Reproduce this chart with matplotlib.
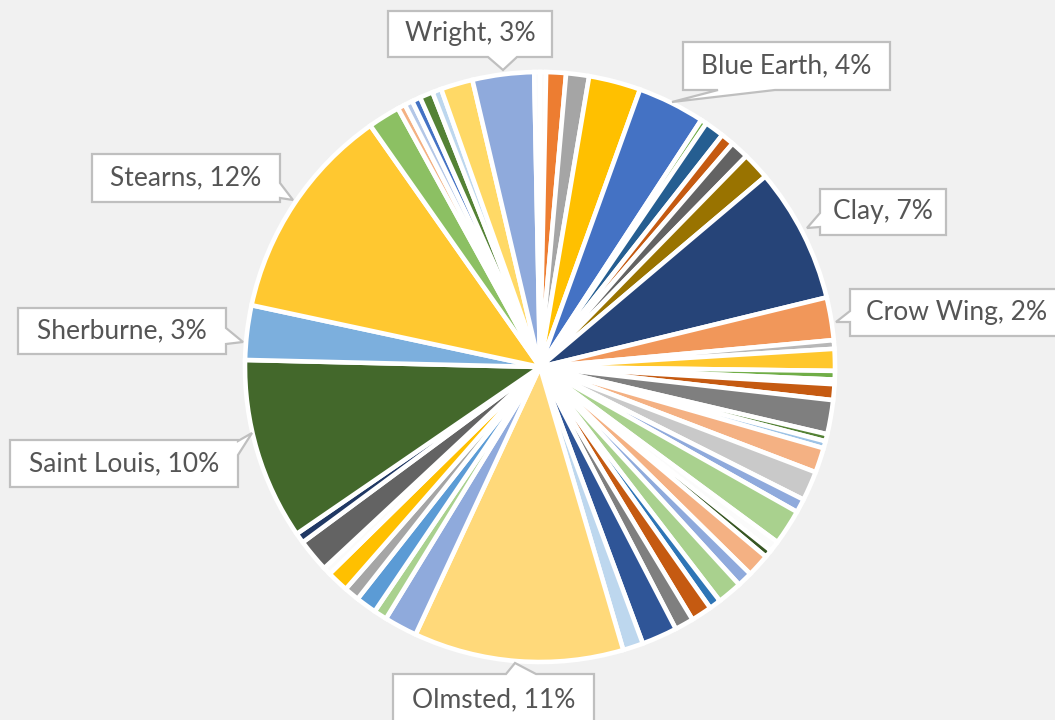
import matplotlib
matplotlib.use("Agg")
import matplotlib.pyplot as plt
from matplotlib.patches import Polygon

# ---- data (share of total, %, clockwise from 12 o'clock) ----
counties = ["", "", "", "", "Blue Earth", "", "", "", "", "", "Clay", "Crow Wing",
            "", "", "", "", "", "", "", "", "", "", "", "", "", "", "", "", "",
            "", "", "", "", "", "Olmsted", "", "", "", "", "", "", "", "",
            "Saint Louis", "Sherburne", "Stearns", "", "", "", "", "", "", "",
            "Wright", ""]
shares = [0.33, 1.08, 1.25, 2.83, 3.69, 0.33, 1.06, 0.72, 1.00, 1.50, 7.36, 2.33,
          0.47, 1.19, 0.47, 0.25, 0.86, 1.86, 0.39, 0.39, 1.36, 1.61, 0.75, 1.94,
          0.58, 0.42, 1.25, 0.83, 1.36, 0.64, 1.14, 1.03, 1.94, 1.11, 11.45,
          1.81, 0.72, 1.14, 0.83, 1.19, 0.42, 1.81, 0.56, 9.92, 2.97, 11.86,
          1.75, 0.42, 0.44, 0.47, 0.72, 0.50, 1.75, 3.36, 0.31]
colors = ["#fbfbfb", "#ed7d31", "#a5a5a5", "#ffc000", "#4472c4", "#70ad47",
          "#255e91", "#c55a11", "#636363", "#997300", "#264478", "#f1975a",
          "#b7b7b7", "#ffc72c", "#70ad47", "#9dc3e6", "#c55a11", "#7f7f7f",
          "#548235", "#9dc3e6", "#f4b183", "#c9c9c9", "#8faadc", "#a9d18e",
          "#fbfbfb", "#375623", "#f4b183", "#8faadc", "#a9d18e", "#2e75b6",
          "#c55a11", "#7f7f7f", "#2f5597", "#bdd7ee", "#ffd97a", "#8faadc",
          "#a9d18e", "#5b9bd5", "#a5a5a5", "#ffc000", "#fbfbfb", "#636363",
          "#203864", "#43682b", "#7cafdd", "#ffc830", "#8cc063", "#f4b183",
          "#b4c7e7", "#4472c4", "#548235", "#bdd7ee", "#ffd966", "#8faadc",
          "#fbfbfb"]

# callout geometry (image pixel coords): box, pointer side, pointer base, tip
callouts = {
    "Wright":      ((388, 11, 552, 57), "bottom", (488, 517), (503, 70)),
    "Blue Earth":  ((683, 42, 890, 90), "bottom", (718, 775), (672, 102)),
    "Stearns":     ((92, 154, 280, 202), "right", (183, 198), (293, 200)),
    "Clay":        ((820, 189, 946, 235), "left", (213, 227), (807, 228)),
    "Crow Wing":   ((850, 289, 1070, 336), "left", (311, 322), (836, 322)),
    "Sherburne":   ((18, 308, 226, 354), "right", (328, 344), (243, 342)),
    "Saint Louis": ((10, 440, 238, 487), "right", (441, 455), (252, 433)),
    "Olmsted":     ((393, 674, 594, 735), "top", (506, 536), (515, 663)),
}

W, H = 1055, 720
fig = plt.figure(figsize=(W / 100, H / 100), dpi=100)
fig.patch.set_facecolor("#f1f1f1")
ax = fig.add_axes([0, 0, 1, 1])
ax.set_facecolor("#f1f1f1")

cx, cy, R = 540, H - 367, 295
ax.pie(shares, colors=colors, startangle=90, counterclock=False,
       center=(cx, cy), radius=R,
       wedgeprops=dict(edgecolor="white", linewidth=3.3))
ax.set_xlim(0, W)
ax.set_ylim(0, H)
ax.set_aspect("equal")
ax.axis("off")


def callout_poly(box, side, base, tip):
    x0, y0, x1, y1 = box
    b0, b1 = base
    pts = [(x0, y0)]
    if side == "top":
        pts += [(b0, y0), tip, (b1, y0)]
    pts += [(x1, y0)]
    if side == "right":
        pts += [(x1, b0), tip, (x1, b1)]
    pts += [(x1, y1)]
    if side == "bottom":
        pts += [(b1, y1), tip, (b0, y1)]
    pts += [(x0, y1)]
    if side == "left":
        pts += [(x0, b1), tip, (x0, b0)]
    return [(px, H - py) for px, py in pts]


total = sum(shares)
for name, share in zip(counties, shares):
    if not name:
        continue
    box, side, base, tip = callouts[name]
    poly = Polygon(callout_poly(box, side, base, tip), closed=True,
                   facecolor="white", edgecolor="#bfbfbf", linewidth=1.6,
                   zorder=5)
    ax.add_patch(poly)
    x0, y0, x1, y1 = box
    ytxt = (y0 + min(y1, 722)) / 2 if name != "Olmsted" else 700
    xtxt = (x0 + x1) / 2 if name != "Crow Wing" else 957
    pct = round(share / total * 100)
    ax.text(xtxt, H - ytxt, f"{name}, {pct}%", ha="center", va="center",
            fontsize=19, color="#555555", family="Lato", zorder=6)

fig.savefig("out.png", dpi=100, facecolor=fig.get_facecolor())
